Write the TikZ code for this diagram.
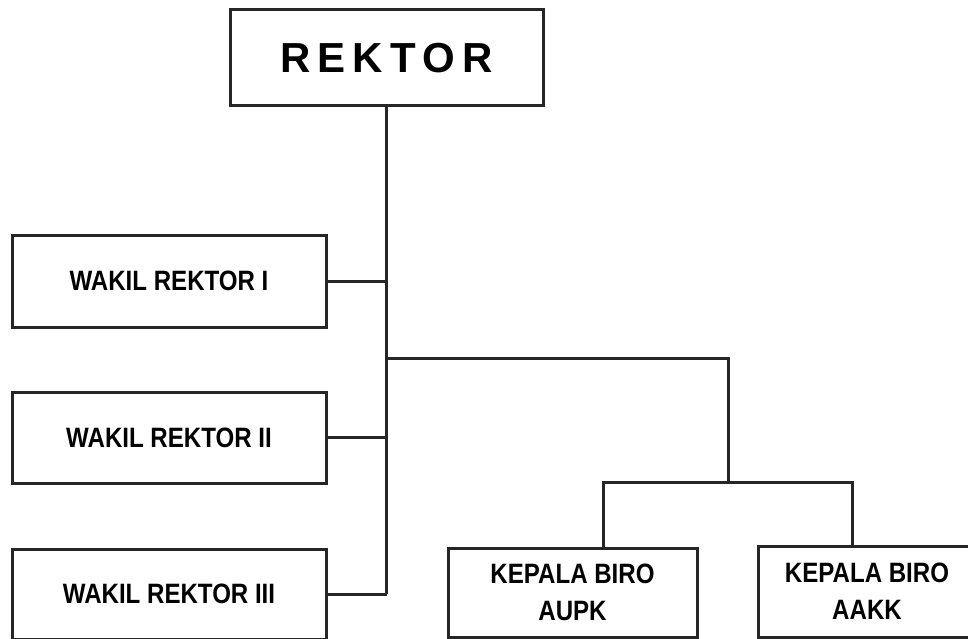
\documentclass[tikz,border=0pt]{standalone}
\usepackage{fontspec}
\setmainfont{Liberation Sans}
\newfontfamily\narrowfont{Liberation Sans}[FakeStretch=0.86]
\newfontfamily\spacedfont{Liberation Sans}[LetterSpace=17]
\usepackage{tikz}
\usetikzlibrary{positioning}

\begin{document}
\begin{tikzpicture}[x=1pt, y=-1pt, line width=3pt,
    box/.style={draw=black!85, inner sep=0pt, align=center,
        font=\narrowfont\bfseries\fontsize{28}{37}\selectfont},
    garis/.style={draw=black!85}]
    \useasboundingbox (0,0) rectangle (968,639);

    % Kotak pimpinan
    \node[box, minimum width=313, minimum height=96,
        font=\spacedfont\bfseries\fontsize{42}{48}\selectfont]
        (rektor) at (386.5,58) {REKTOR};

    % Wakil rektor
    \node[box, minimum width=314, minimum height=92] (wr1) at (169,281) {WAKIL REKTOR I};
    \node[box, minimum width=314, minimum height=91] (wr2) at (169,437.5) {WAKIL REKTOR II};
    \node[box, minimum width=314, minimum height=90] (wr3) at (169,594) {WAKIL REKTOR III};

    % Kepala biro
    \node[box, minimum width=249, minimum height=89] (aupk) at (572.5,592.5) {KEPALA BIRO\\AUPK};
    \node[box, minimum width=218, minimum height=91] (aakk) at (867,591.5) {KEPALA BIRO\\AAKK};

    % Garis penghubung
    \coordinate (cabang) at (728,358);
    \coordinate (kiri) at (603,482);
    \coordinate (kanan) at (852,482);
    \draw[garis] (rektor.south) -- (rektor.south |- wr3.east);
    \draw[garis] (wr1.east) -- (wr1.east -| rektor.south);
    \draw[garis] (wr2.east) -- (wr2.east -| rektor.south);
    \draw[garis] (wr3.east) -- (wr3.east -| rektor.south);
    \draw[garis] (rektor.south |- cabang) -- (cabang) -- (cabang |- kiri);
    \draw[garis] (aupk.north -| kiri) -- (kiri) -- (kanan) -- (aakk.north -| kanan);
\end{tikzpicture}
\end{document}
